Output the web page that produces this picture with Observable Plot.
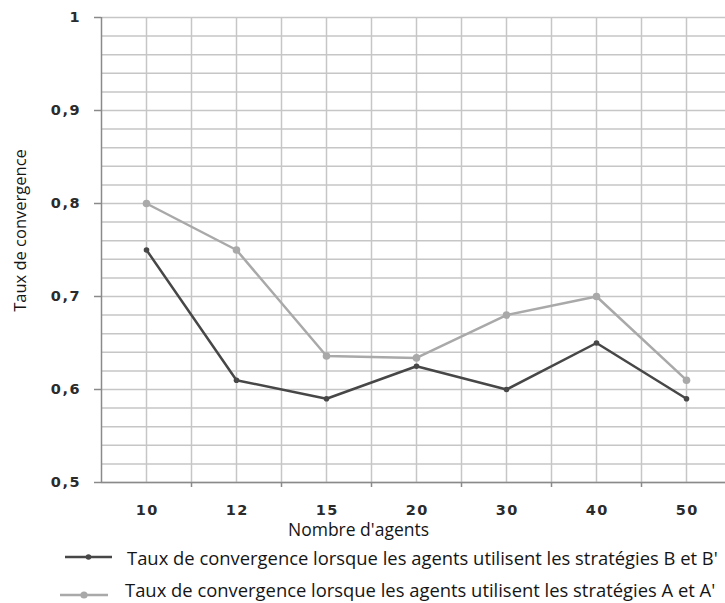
<!DOCTYPE html>
<html><head><meta charset="utf-8">
<script src="https://cdn.jsdelivr.net/npm/d3@7"></script>
<script src="https://cdn.jsdelivr.net/npm/@observablehq/plot@0.6"></script>
<style>
body{margin:0;background:#fff;width:725px;height:603px;overflow:hidden;position:relative;font-family:"Open Sans",sans-serif;}
.sw{position:absolute;display:block;}
.lt{position:absolute;font-size:18.4px;line-height:24px;color:#151515;white-space:nowrap;}
</style></head><body><div id="chart"></div><div id="legend"></div>
<script>
const categories = ["10", "12", "15", "20", "30", "40", "50"];
const seriesB = [0.75, 0.61, 0.59, 0.625, 0.60, 0.65, 0.59];
const seriesA = [0.80, 0.75, 0.636, 0.634, 0.68, 0.70, 0.61];
const seriesNames = [
  "Taux de convergence lorsque les agents utilisent les stratégies B et B'",
  "Taux de convergence lorsque les agents utilisent les stratégies A et A'"
];
const seriesColors = ["#474747", "#a9a9a9"];
const yTicks = [0.5, 0.6, 0.7, 0.8, 0.9, 1];
const yTickLabels = ["0,5", "0,6", "0,7", "0,8", "0,9", "1"];
const xTitle = "Nombre d'agents";
const yTitle = "Taux de convergence";

const idx = categories.map((_, i) => i);
const bounds = idx.slice(1).map(i => i - 0.5);
const minor = d3.range(0.5, 1.0001, 0.02);
const grid = "#c6c6c6";
const axisC = "#8a8a8a";

const chart = Plot.plot({
  width: 725, height: 540,
  marginLeft: 101, marginRight: 0, marginTop: 17, marginBottom: 58,
  style: {fontFamily: "DejaVu Sans", background: "white"},
  x: {type: "linear", domain: [-0.5, 6.5], range: [101, 731], axis: null},
  y: {domain: [0.5, 1], range: [482, 17], axis: null},
  marks: [
    Plot.ruleY(minor, {stroke: grid, strokeWidth: 1.5}),
    Plot.ruleX(idx, {stroke: grid, strokeWidth: 1.5}),
    Plot.ruleX(bounds, {stroke: grid, strokeWidth: 1.5}),
    Plot.ruleX([-0.5], {stroke: axisC, strokeWidth: 1.5}),
    Plot.ruleY([0.5], {stroke: axisC, strokeWidth: 1.5}),
    Plot.axisY({ticks: yTicks, tickSize: 7, fill: "none", stroke: axisC, strokeWidth: 1.5}),
    Plot.axisX({ticks: bounds, tickSize: 5, fill: "none", stroke: axisC, strokeWidth: 1.5}),
    Plot.text(yTicks, {y: d => d, frameAnchor: "left", dx: -20.5, textAnchor: "end",
      text: (d, i) => yTickLabels[i], fontSize: 14.5, fontWeight: "bold", fill: "#2b2b2b"}),
    Plot.text(idx, {x: d => d, frameAnchor: "bottom", dy: 28, dx: 0.8, lineAnchor: "middle",
      text: d => categories[d], fontSize: 14.5, fontWeight: "bold", fill: "#2b2b2b"}),
    Plot.text([yTitle], {frameAnchor: "left", rotate: -90, dx: -81, dy: -19.5, textAnchor: "middle",
      lineAnchor: "middle", fontFamily: "Open Sans", fontSize: 16.5, fill: "#151515"}),
    Plot.text([xTitle], {frameAnchor: "bottom", dx: -55, dy: 53, lineAnchor: "bottom",
      fontFamily: "Open Sans", fontSize: 17.5, fill: "#151515"}),
    Plot.line(idx, {x: d => d, y: i => seriesA[i], stroke: seriesColors[1], strokeWidth: 2.5}),
    Plot.dot(idx, {x: d => d, y: i => seriesA[i], r: 3.8, fill: seriesColors[1]}),
    Plot.line(idx, {x: d => d, y: i => seriesB[i], stroke: seriesColors[0], strokeWidth: 2.5}),
    Plot.dot(idx, {x: d => d, y: i => seriesB[i], r: 2.8, fill: seriesColors[0]})
  ]
});
d3.select(chart).selectAll('g[font-weight="bold"] text').style("letter-spacing", "1.5px");
document.getElementById("chart").appendChild(chart);

const legendPos = [
  {x1: 65, x2: 112, ly: 557, r: 2.8, tx: 127, ty: 546},
  {x1: 60, x2: 108, ly: 595, r: 3.6, tx: 125, ty: 578}
];
const legend = d3.select("#legend");
seriesNames.forEach((name, k) => {
  const p = legendPos[k];
  const s = legend.append("svg").attr("class", "sw")
    .style("left", (p.x1 - 5) + "px").style("top", (p.ly - 8) + "px")
    .attr("width", p.x2 - p.x1 + 10).attr("height", 16);
  s.append("line").attr("x1", 5).attr("x2", 5 + p.x2 - p.x1).attr("y1", 8).attr("y2", 8)
    .attr("stroke", seriesColors[k]).attr("stroke-width", 2.5);
  s.append("circle").attr("cx", 5 + (p.x2 - p.x1) / 2).attr("cy", 8).attr("r", p.r)
    .attr("fill", seriesColors[k]);
  legend.append("div").attr("class", "lt")
    .style("left", p.tx + "px").style("top", p.ty + "px").text(name);
});
</script></body></html>
